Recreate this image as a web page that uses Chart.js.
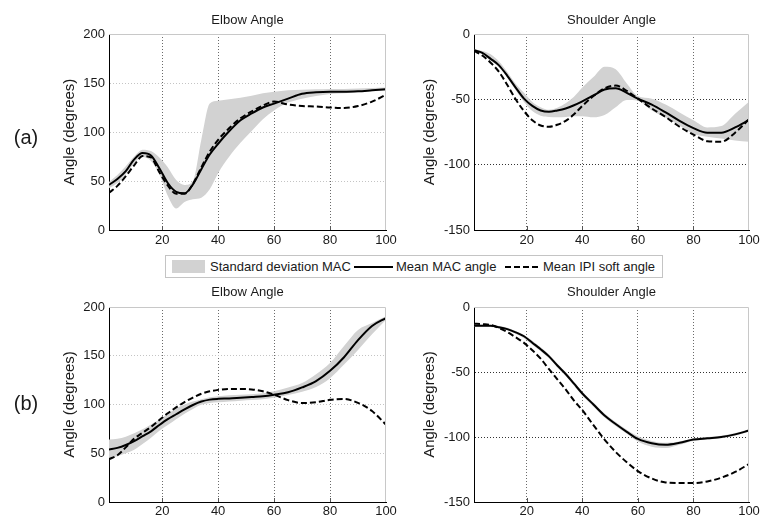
<!DOCTYPE html>
<html>
<head>
<meta charset="utf-8">
<script src="https://cdn.jsdelivr.net/npm/chart.js@4.4.0/dist/chart.umd.min.js"></script>
<style>
  body { margin: 0; background: #fff; }
  #fig { position: relative; width: 761px; height: 519px; overflow: hidden; font-family: "Liberation Sans", Arial, sans-serif; color: #1a1a1a; }
  .panel { position: absolute; }
  .tag { position: absolute; left: 8px; width: 36px; text-align: center; font-size: 20px; line-height: 24px; }
  #legend { position: absolute; left: 165px; top: 255px; width: 498px; height: 23px; box-sizing: border-box; border: 1px solid #c4c4c4; background: #fff; }
  #legend span, #legend svg { position: absolute; }
  #legend .lt { top: 0; font-size: 13px; line-height: 22px; white-space: nowrap; }
  #legend .sw { left: 6px; top: 4px; width: 33px; height: 13px; background: #d2d2d2; }
  #legend .ln { top: 10px; height: 0; border-top: 2px solid #000; }
</style>
</head>
<body>
<div id="fig">
  <div class="panel" style="left:0;top:0;width:400px;height:255px"><canvas id="elbowA"></canvas></div>
  <div class="panel" style="left:390px;top:0;width:371px;height:255px"><canvas id="shoulderA"></canvas></div>
  <div class="panel" style="left:0;top:268px;width:400px;height:251px"><canvas id="elbowB"></canvas></div>
  <div class="panel" style="left:390px;top:268px;width:371px;height:251px"><canvas id="shoulderB"></canvas></div>

  <div class="tag" style="top:125px">(a)</div>
  <div class="tag" style="top:391px">(b)</div>

  <div id="legend">
    <span class="sw"></span>
    <span class="lt" style="left:44px">Standard deviation MAC</span>
    <span class="ln" style="left:188px;width:39px"></span>
    <span class="lt" style="left:230px">Mean MAC angle</span>
    <svg style="left:339px;top:9px" width="36" height="4"><line x1="0" y1="2" x2="36" y2="2" stroke="#000" stroke-width="2" stroke-dasharray="6 3"/></svg>
    <span class="lt" style="left:377px">Mean IPI soft angle</span>
  </div>
</div>

<script>
// % of movement where the curves were sampled
const steps = [1, 4, 7, 10, 13, 16, 19, 22, 25, 28, 31, 34, 37, 40, 44, 48, 52, 56, 60, 65, 70, 75, 80, 85, 90, 95, 100];

const xTicks = [20, 40, 60, 80, 100];
const elbowTicks = [0, 50, 100, 150, 200];
const shoulderTicks = [-150, -100, -50, 0];

// (a) elbow
const elbowA_mac  = [46, 52, 60, 72, 78.5, 76, 63, 48, 39, 37.5, 46.5, 62, 77, 88, 101, 112, 119, 125, 129, 134, 139, 140.5, 141, 141, 141.5, 142.5, 143.5];
const elbowA_ipi  = [38, 45, 55, 66, 75.5, 74, 59, 45.5, 37, 37, 47, 64, 80, 92, 104, 114, 121, 127, 131, 128, 126.5, 126, 125, 124.5, 126.5, 131, 138];
const elbowA_sdHi = [49, 56, 65, 75, 82, 80.5, 74, 64, 51, 46, 50, 92, 129, 132, 133.5, 135, 137, 139.5, 141, 142.5, 143, 143.5, 144, 144, 144.5, 145, 145.5];
const elbowA_sdLo = [42.5, 48, 57, 68, 74.5, 70.5, 57, 35, 22, 28.6, 31.5, 33, 41.5, 58, 75, 89, 101, 113, 122, 130, 134, 136.7, 138.8, 139.5, 140.5, 141.5, 142];

// (a) shoulder
const shoulderA_mac  = [-12.2, -14.5, -19, -24, -32, -41, -49.5, -55, -58.5, -59.5, -58.5, -57, -54.5, -51.5, -47, -42.5, -41.5, -45, -49.5, -54, -60, -66.5, -72, -75.5, -75.5, -71.5, -65.8];
const shoulderA_ipi  = [-12.8, -16.5, -22, -29, -39, -50, -59, -66, -70, -71, -69.5, -66.5, -61.5, -55, -47.5, -41.5, -39.5, -43.5, -49.5, -57, -63.5, -71, -77, -82, -82.5, -75.5, -65.3];
const shoulderA_sdHi = [-11.7, -13, -15.5, -21, -29, -38, -45, -52, -56, -58, -56.5, -53, -48, -41, -33, -25, -27, -37.8, -47.5, -49.5, -54, -60, -66, -71.5, -70.5, -61, -51.8];
const shoulderA_sdLo = [-12.8, -15.5, -20.5, -25.5, -33.5, -43, -52, -59, -62.5, -63.5, -63.8, -63.5, -63, -63, -63.8, -62, -56, -50.5, -51, -58.5, -64, -70, -76.5, -78.6, -80, -81.5, -82.4];

// (b) elbow
const elbowB_mac  = [53.7, 55.5, 58.5, 62.5, 67.5, 72.5, 79, 85, 90, 95, 99.5, 103, 105, 105.8, 106.2, 107, 107.8, 108.5, 110, 112.5, 117.5, 124, 134.5, 148.5, 166, 180.5, 188.7];
const elbowB_ipi  = [44, 48, 56, 65, 71, 77, 84, 91, 97, 102.5, 107, 111, 113.5, 115, 116, 116, 115.5, 113.5, 110, 104.5, 101.5, 102.3, 104.8, 105.6, 101.7, 93.3, 79.3];
const elbowB_sdHi = [64, 65, 67, 70.5, 74.5, 79.5, 84.5, 90.5, 96, 100, 103, 105.5, 107.5, 108.5, 109.5, 110, 110.5, 111.5, 113.5, 117.5, 122, 131, 142.5, 160, 176.5, 183.7, 190.4];
const elbowB_sdLo = [45, 47, 50, 53.5, 59.5, 66, 73, 79, 85, 90.6, 95.5, 99.7, 101.5, 102.2, 103, 103.8, 104.5, 105.5, 107, 109.7, 113, 118, 127, 141, 156, 172, 187];

// (b) shoulder
const shoulderB_mac  = [-14.4, -14.4, -14.5, -15.5, -17, -19.5, -22.5, -27.5, -32.5, -38, -45, -51.5, -59, -66.5, -75, -83.5, -90, -96, -101.5, -104.8, -106, -104.5, -102, -101, -100, -98, -95];
const shoulderB_ipi  = [-12.8, -13.2, -13.8, -16.2, -19.3, -23.3, -27.6, -33.3, -39.7, -47.8, -55.6, -63.4, -72, -79.4, -90.9, -102, -111.5, -119.4, -126.2, -131.9, -135, -135.4, -135.4, -134.2, -131.3, -126.9, -120.8];
const shoulderB_sdHi = [-13.5, -13.6, -13.8, -14.6, -16, -18.5, -21.5, -26, -31, -36.5, -43.5, -50, -57.5, -65, -73.5, -82, -88.5, -94.5, -99.5, -103, -104.5, -103.5, -101, -100, -99, -97, -94];
const shoulderB_sdLo = [-15.2, -15.2, -15.3, -16.5, -18, -20.5, -24, -29, -34, -39.5, -46.5, -53, -60.5, -68, -76.5, -85, -91.5, -97.5, -103.5, -107.5, -108.5, -106, -103, -102, -101, -99, -96];

const ink = '#1a1a1a';
const bandColor = '#d2d2d2';

Chart.defaults.font.family = '"Liberation Sans", Arial, sans-serif';
Chart.defaults.color = ink;

// light top/right frame and the small inward ticks on the x axis
const framePlugin = {
    id: 'frame',
    afterDraw(chart) {
        const { ctx, chartArea: a } = chart;
        const x = chart.scales.x;
        ctx.save();
        ctx.lineWidth = 1;
        ctx.strokeStyle = '#c8c8c8';
        ctx.beginPath();
        ctx.moveTo(a.left, a.top + 0.5);
        ctx.lineTo(a.right - 0.5, a.top + 0.5);
        ctx.lineTo(a.right - 0.5, a.bottom);
        ctx.stroke();
        ctx.strokeStyle = '#555';
        ctx.beginPath();
        xTicks.forEach(v => {
            if (v >= x.max) return;
            const px = Math.round(x.getPixelForValue(v)) + 0.5;
            ctx.moveTo(px, a.bottom);
            ctx.lineTo(px, a.bottom - 4);
        });
        ctx.stroke();
        ctx.restore();
    }
};

function makePanel(id, o) {
    const pts = ys => steps.map((x, i) => ({ x, y: ys[i] }));
    const yMin = o.yTicks[0];
    const yMax = o.yTicks[o.yTicks.length - 1];

    new Chart(document.getElementById(id), {
        type: 'line',
        data: {
            datasets: [
                { label: 'Mean MAC angle', data: pts(o.mac), borderColor: '#000', borderWidth: 2 },
                { label: 'Mean IPI soft angle', data: pts(o.ipi), borderColor: '#000', borderWidth: 2, borderDash: [6, 3] },
                { label: 'Standard deviation MAC', data: pts(o.hi), borderWidth: 0, borderColor: 'transparent', backgroundColor: bandColor, fill: '+1' },
                { label: 'sd lower', data: pts(o.lo), borderWidth: 0, borderColor: 'transparent', fill: false }
            ]
        },
        options: {
            animation: false,
            responsive: true,
            maintainAspectRatio: false,
            events: [],
            layout: { padding: { left: o.padL, right: o.padR, top: 0, bottom: 0 } },
            elements: { point: { radius: 0 }, line: { cubicInterpolationMode: 'monotone' } },
            plugins: {
                legend: { display: false },
                tooltip: { enabled: false },
                title: {
                    display: true, text: o.title, fullSize: false, color: ink,
                    font: { size: 13, weight: 'normal' },
                    padding: { top: o.titleTop, bottom: o.titleBottom }
                }
            },
            scales: {
                x: {
                    type: 'linear', min: 1, max: 100,
                    afterBuildTicks: s => { s.ticks = xTicks.map(v => ({ value: v })); },
                    afterFit: s => { s.height = o.xH; s.paddingLeft = 0; s.paddingRight = 0; },
                    grid: { drawTicks: false, lineWidth: 1, color: c => (c.tick && c.tick.value < 100) ? '#6a6a6a' : 'transparent' },
                    border: { color: '#000', width: 1, dash: [1, 2] },
                    ticks: { color: ink, font: { size: 13 }, padding: o.xPad, maxRotation: 0 }
                },
                y: {
                    type: 'linear', min: yMin, max: yMax,
                    afterBuildTicks: s => { s.ticks = o.yTicks.map(v => ({ value: v })); },
                    afterFit: s => { s.width = o.yW; s.paddingTop = 0; s.paddingBottom = 0; },
                    grid: { drawTicks: false, lineWidth: 1, color: c => (c.tick && c.tick.value > yMin && c.tick.value < yMax) ? o.hGrid : 'transparent' },
                    border: { color: '#000', width: 1, dash: [1, 2] },
                    ticks: { color: ink, font: { size: 13 }, padding: 4 },
                    title: { display: true, text: 'Angle (degrees)', color: ink, font: { size: 15 }, padding: { top: 4, bottom: 0 } }
                }
            }
        },
        plugins: [framePlugin]
    });
}

const topRow = { titleTop: 13, titleBottom: 5.4, xH: 25, xPad: 3 };
const bottomRow = { titleTop: 16.9, titleBottom: 6.5, xH: 17, xPad: 2 };
const leftCol = { padL: 57, padR: 14, yW: 52 };
const rightCol = { padL: 26.5, padR: 12, yW: 57.5 };

makePanel('elbowA', { ...topRow, ...leftCol, title: 'Elbow Angle', yTicks: elbowTicks, hGrid: '#c4c4c4',
    mac: elbowA_mac, ipi: elbowA_ipi, hi: elbowA_sdHi, lo: elbowA_sdLo });
makePanel('shoulderA', { ...topRow, ...rightCol, title: 'Shoulder Angle', yTicks: shoulderTicks, hGrid: '#333',
    mac: shoulderA_mac, ipi: shoulderA_ipi, hi: shoulderA_sdHi, lo: shoulderA_sdLo });
makePanel('elbowB', { ...bottomRow, ...leftCol, title: 'Elbow Angle', yTicks: elbowTicks, hGrid: '#c4c4c4',
    mac: elbowB_mac, ipi: elbowB_ipi, hi: elbowB_sdHi, lo: elbowB_sdLo });
makePanel('shoulderB', { ...bottomRow, ...rightCol, title: 'Shoulder Angle', yTicks: shoulderTicks, hGrid: '#333',
    mac: shoulderB_mac, ipi: shoulderB_ipi, hi: shoulderB_sdHi, lo: shoulderB_sdLo });
</script>
</body>
</html>
